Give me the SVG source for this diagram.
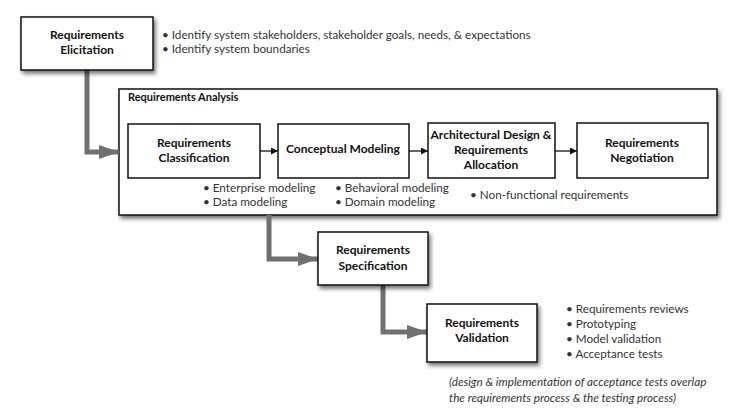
<svg xmlns="http://www.w3.org/2000/svg" width="742" height="414" viewBox="0 0 742 414">
<defs>
<filter id="sh" x="-10%" y="-10%" width="130%" height="140%">
<feDropShadow dx="2" dy="3" stdDeviation="2" flood-color="#000" flood-opacity="0.55"/>
</filter>
<marker id="big" viewBox="0 0 20 14" refX="20" refY="7" markerWidth="20" markerHeight="14" markerUnits="userSpaceOnUse" orient="auto">
<path d="M0,0 L20,7 L0,14 Z" fill="#707070"/>
</marker>
<marker id="sm" viewBox="0 0 8 8" refX="8" refY="4" markerWidth="8" markerHeight="7" markerUnits="userSpaceOnUse" orient="auto">
<path d="M0,0 L8,4 L0,8 Z" fill="#111"/>
</marker>
</defs>
<style>
.box{fill:#fff;stroke:#111;stroke-width:1.5}
.big{fill:#fff;stroke:#111;stroke-width:1.5}
.lbl{font-family:Lato,"Open Sans",sans-serif;font-weight:bold;font-size:12px;fill:#111;text-anchor:middle}
.txt{font-family:Lato,"Open Sans",sans-serif;font-size:11.7px;fill:#333}
.note{font-family:Lato,"Open Sans",sans-serif;font-size:11.7px;font-style:italic;fill:#333}
.gc{fill:none;stroke:#707070;stroke-width:5;marker-end:url(#big)}
.bc{fill:none;stroke:#111;stroke-width:1.3;marker-end:url(#sm)}
</style>
<rect width="742" height="414" fill="#fff"/>

<g id="analysis">
<rect class="big" x="119" y="89" width="598" height="126" filter="url(#sh)"/>
<text class="lbl" x="128" y="101" style="text-anchor:start;font-size:11px">Requirements Analysis</text>
<text class="txt" x="203" y="192">• Enterprise modeling</text>
<text class="txt" x="203" y="206">• Data modeling</text>
<text class="txt" x="335" y="192">• Behavioral modeling</text>
<text class="txt" x="335" y="206">• Domain modeling</text>
<text class="txt" x="470" y="199">• Non-functional requirements</text>
</g>

<g id="connectors">
<path class="gc" d="M87,70 V152 H119"/>
<path class="gc" d="M269,215 V259 H318"/>
<path class="gc" d="M383,285 V332 H427"/>
<path class="bc" d="M260,151 H278"/>
<path class="bc" d="M409,151 H428"/>
<path class="bc" d="M555,151 H577"/>
</g>

<g id="elicitation">
<rect class="box" x="21" y="17" width="132" height="53" filter="url(#sh)"/>
<text class="lbl" x="87" y="39">Requirements</text>
<text class="lbl" x="87" y="54">Elicitation</text>
<text class="txt" x="162" y="39">• Identify system stakeholders, stakeholder goals, needs, &amp; expectations</text>
<text class="txt" x="162" y="53">• Identify system boundaries</text>
</g>

<g id="classification">
<rect class="box" x="128" y="124" width="132" height="54"/>
<text class="lbl" x="194" y="147">Requirements</text>
<text class="lbl" x="194" y="162">Classification</text>
</g>

<g id="conceptual">
<rect class="box" x="278" y="124" width="131" height="54"/>
<text class="lbl" x="343" y="153">Conceptual Modeling</text>
</g>

<g id="architectural">
<rect class="box" x="428" y="123" width="127" height="55"/>
<text class="lbl" x="491" y="139">Architectural Design &amp;</text>
<text class="lbl" x="491" y="154">Requirements</text>
<text class="lbl" x="491" y="169">Allocation</text>
</g>

<g id="negotiation">
<rect class="box" x="577" y="123" width="131" height="55"/>
<text class="lbl" x="642" y="147">Requirements</text>
<text class="lbl" x="642" y="162">Negotiation</text>
</g>

<g id="specification">
<rect class="box" x="318" y="232" width="110" height="53" filter="url(#sh)"/>
<text class="lbl" x="373" y="254">Requirements</text>
<text class="lbl" x="373" y="270">Specification</text>
</g>

<g id="validation">
<rect class="box" x="427" y="304" width="110" height="58" filter="url(#sh)"/>
<text class="lbl" x="482" y="327">Requirements</text>
<text class="lbl" x="482" y="342">Validation</text>
<text class="txt" x="566" y="313">• Requirements reviews</text>
<text class="txt" x="566" y="328">• Prototyping</text>
<text class="txt" x="566" y="343">• Model validation</text>
<text class="txt" x="566" y="358">• Acceptance tests</text>
<text class="note" x="449" y="386">(design &amp; implementation of acceptance tests overlap</text>
<text class="note" x="449" y="402">the requirements process &amp; the testing process)</text>
</g>
</svg>
